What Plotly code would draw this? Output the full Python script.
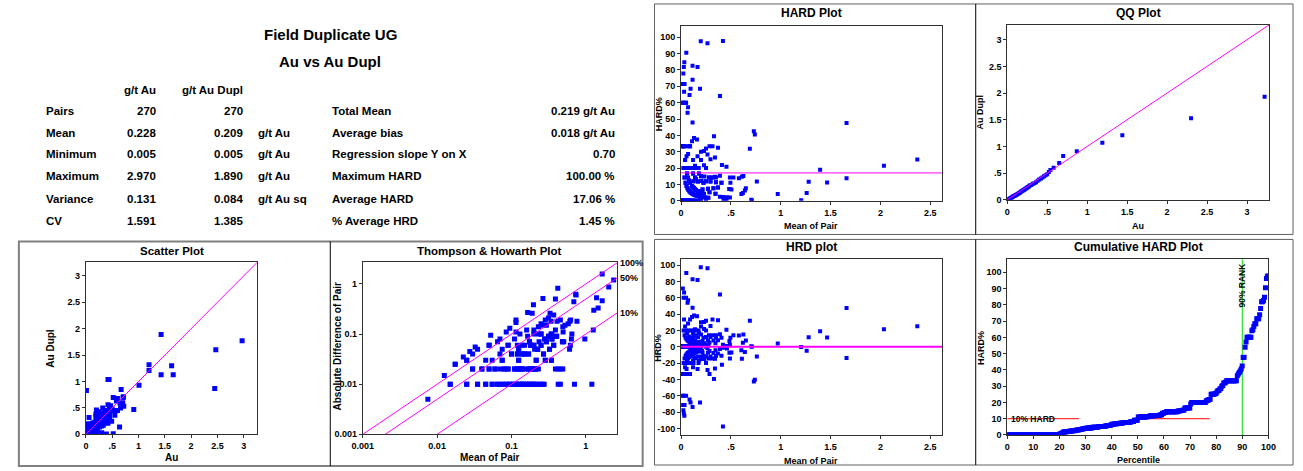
import math
import plotly.graph_objects as go

W, H = 1303, 471

# ---- assay pairs: original (Au) and field duplicate (Au Dupl), g/t ----
au = [
    0.005, 0.005, 0.005, 0.005, 0.005, 0.005, 0.005, 0.005, 0.005,
    0.01, 0.01, 0.01, 0.01, 0.01, 0.02, 0.02, 0.02, 0.02,
    0.03, 0.03, 0.03, 0.04, 0.04, 0.04, 0.05, 0.05, 0.05,
    0.06, 0.06, 0.06, 0.07, 0.07, 0.07, 0.08, 0.08, 0.08,
    0.09, 0.09, 0.10, 0.10, 0.10, 0.11, 0.11, 0.12, 0.12,
    0.13, 0.13, 0.14, 0.15, 0.16, 0.18, 0.20, 0.25, 0.71,
    1.20, 0.13, 0.12, 0.14, 0.13, 0.15, 0.14, 0.16, 0.17,
    0.16, 0.18, 0.19, 0.20, 0.19, 0.21, 0.22, 0.24, 0.25,
    0.26, 0.28, 0.38, 0.43, 0.45, 0.50, 0.42, 0.46, 0.71,
    1.01, 1.20, 0.09, 0.08, 0.10, 0.09, 0.11, 0.10, 0.12,
    0.11, 0.16, 0.18, 0.17, 0.19, 0.18, 0.20, 0.21, 0.22,
    0.20, 0.24, 0.27, 0.30, 0.33, 0.36, 0.60, 0.58, 0.65,
    0.06, 0.05, 0.07, 0.06, 0.08, 0.07, 0.10, 0.12, 0.11,
    0.13, 0.12, 0.14, 0.13, 0.15, 0.14, 0.20, 0.23, 0.25,
    0.29, 0.30, 0.35, 0.40, 0.34, 0.45, 0.52, 0.47, 0.70,
    1.63, 1.43, 0.04, 0.05, 0.07, 0.09, 0.08, 0.10, 0.13,
    0.17, 0.11, 0.14, 0.15, 0.19, 0.18, 0.25, 0.20, 0.22,
    0.28, 0.31, 0.39, 0.26, 0.33, 0.45, 0.36, 0.67, 0.55,
    1.43, 0.52, 0.06, 0.05, 0.07, 0.10, 0.14, 0.12, 0.16,
    0.15, 0.21, 0.17, 0.23, 0.24, 0.32, 0.27, 0.36, 0.29,
    0.40, 0.45, 0.42, 0.60, 0.72, 0.66, 0.04, 0.03, 0.20,
    0.02, 0.03, 0.04, 0.06, 0.06, 0.09, 0.08, 0.12, 0.10,
    0.15, 0.14, 0.18, 0.20, 0.30, 2.47, 2.97, 1.66, 0.03,
    0.05, 0.09, 0.25, 0.37, 0.28, 0.21, 0.32, 0.55, 0.17,
    0.42, 0.44, 0.91, 0.005, 0.01, 0.02, 0.05, 0.06, 0.18,
    0.22, 0.42, 0.49, 0.04, 0.12, 0.20, 0.01, 0.19, 0.12,
    0.19, 0.04, 0.25, 0.15, 0.30, 0.33, 0.26, 0.03, 0.09,
    0.39, 0.52, 0.10, 0.21, 0.30, 0.64, 0.03, 0.05, 0.04,
    0.08, 0.10, 0.17, 2.45, 0.01, 0.005, 0.005, 0.005, 0.01,
    0.03, 0.03, 0.06, 0.01, 0.02, 0.03, 0.005, 0.11, 0.005,
]
au_dupl = [
    0.005, 0.005, 0.005, 0.005, 0.005, 0.005, 0.005, 0.005, 0.005,
    0.01, 0.01, 0.01, 0.01, 0.01, 0.02, 0.02, 0.02, 0.02,
    0.03, 0.03, 0.03, 0.04, 0.04, 0.04, 0.05, 0.05, 0.05,
    0.06, 0.06, 0.06, 0.07, 0.07, 0.07, 0.08, 0.08, 0.08,
    0.09, 0.09, 0.10, 0.10, 0.10, 0.11, 0.11, 0.12, 0.12,
    0.13, 0.13, 0.14, 0.15, 0.16, 0.18, 0.20, 0.25, 0.71,
    1.21, 0.12, 0.13, 0.13, 0.14, 0.14, 0.15, 0.15, 0.16,
    0.17, 0.17, 0.18, 0.19, 0.20, 0.20, 0.21, 0.23, 0.24,
    0.27, 0.27, 0.40, 0.41, 0.47, 0.48, 0.43, 0.45, 0.70,
    0.93, 1.32, 0.08, 0.09, 0.09, 0.10, 0.10, 0.11, 0.11,
    0.12, 0.18, 0.16, 0.19, 0.17, 0.20, 0.18, 0.19, 0.20,
    0.22, 0.22, 0.30, 0.27, 0.36, 0.33, 0.68, 0.63, 0.59,
    0.05, 0.06, 0.06, 0.07, 0.07, 0.08, 0.12, 0.10, 0.13,
    0.11, 0.14, 0.12, 0.15, 0.13, 0.16, 0.23, 0.20, 0.29,
    0.25, 0.35, 0.30, 0.34, 0.40, 0.52, 0.45, 0.54, 0.60,
    1.30, 1.13, 0.05, 0.04, 0.09, 0.07, 0.10, 0.08, 0.17,
    0.13, 0.14, 0.11, 0.19, 0.15, 0.23, 0.20, 0.25, 0.28,
    0.22, 0.39, 0.31, 0.33, 0.26, 0.36, 0.45, 0.85, 0.44,
    1.89, 0.70, 0.08, 0.07, 0.05, 0.14, 0.10, 0.16, 0.12,
    0.21, 0.15, 0.23, 0.17, 0.32, 0.24, 0.36, 0.27, 0.39,
    0.30, 0.33, 0.56, 0.45, 0.53, 0.50, 0.03, 0.04, 0.27,
    0.03, 0.02, 0.06, 0.04, 0.09, 0.06, 0.12, 0.08, 0.15,
    0.10, 0.21, 0.12, 0.30, 0.20, 1.60, 1.77, 1.13, 0.05,
    0.03, 0.15, 0.15, 0.22, 0.18, 0.14, 0.50, 0.36, 0.11,
    1.04, 1.04, 0.47, 0.01, 0.02, 0.04, 0.10, 0.12, 0.08,
    0.10, 0.21, 0.25, 0.02, 0.06, 0.46, 0.02, 0.38, 0.21,
    0.34, 0.07, 0.43, 0.07, 0.16, 0.17, 0.14, 0.06, 0.05,
    0.005, 0.01, 0.005, 0.02, 0.03, 0.14, 0.005, 0.01, 0.01,
    0.02, 0.03, 0.06, 0.87, 0.83, 0.06, 0.04, 0.03, 0.06,
    0.16, 0.20, 0.32, 0.04, 0.08, 0.14, 0.02, 0.03, 0.05,
]

# quantile pairs shown on the QQ plot (g/t)
qq_au = [0.01, 0.02, 0.03, 0.04, 0.05, 0.06, 0.07, 0.08, 0.09, 0.10,
         0.11, 0.12, 0.13, 0.14, 0.15, 0.16, 0.17, 0.18, 0.19, 0.20,
         0.21, 0.22, 0.23, 0.24, 0.25, 0.26, 0.27, 0.28, 0.30, 0.32,
         0.34, 0.36, 0.38, 0.40, 0.42, 0.44, 0.46, 0.48, 0.50, 0.52,
         0.54, 0.58, 0.65, 0.70, 0.87, 1.19, 1.44, 2.30, 3.22]
qq_dupl = [0.005, 0.01, 0.02, 0.03, 0.04, 0.05, 0.06, 0.07, 0.075, 0.08,
           0.09, 0.10, 0.11, 0.12, 0.13, 0.14, 0.15, 0.16, 0.17, 0.18,
           0.19, 0.20, 0.21, 0.22, 0.23, 0.24, 0.25, 0.27, 0.28, 0.30,
           0.31, 0.33, 0.36, 0.38, 0.40, 0.42, 0.44, 0.46, 0.48, 0.52,
           0.56, 0.60, 0.69, 0.82, 0.91, 1.07, 1.21, 1.53, 1.93]

# summary statistics table
stat_rows = ["Pairs", "Mean", "Minimum", "Maximum", "Variance", "CV"]
stat_au = ["270", "0.228", "0.005", "2.970", "0.131", "1.591"]
stat_dupl = ["270", "0.209", "0.005", "1.890", "0.084", "1.385"]
stat_units = ["", "g/t Au", "g/t Au", "g/t Au", "g/t Au sq", ""]
summary_labels = ["Total Mean", "Average bias", "Regression slope Y on X",
                  "Maximum HARD", "Average HARD", "% Average HRD"]
summary_values = ["0.219 g/t Au", "0.018 g/t Au", "0.70",
                  "100.00 %", "17.06 %", "1.45 %"]
avg_hard = 17.06
precision_levels = [100, 50, 10]
hard_ref = 10
rank_ref = 90

# ---- derived quantities ----
mean_pair = [(a + b) / 2 for a, b in zip(au, au_dupl)]
abs_diff = [abs(a - b) for a, b in zip(au, au_dupl)]
hard = [abs(a - b) / (a + b) * 100 for a, b in zip(au, au_dupl)]
hrd = [(a - b) / (a + b) * 100 for a, b in zip(au, au_dupl)]
th_x = [m for m, d in zip(mean_pair, abs_diff) if d > 1e-9]
th_y = [d for d in abs_diff if d > 1e-9]
hard_sorted = sorted(hard)
n = len(hard_sorted)
percentile = [i / (n - 1) * 100 for i in range(n)]

FONT = "Liberation Sans"
BLUE = "#0000FF"
MAG = "#FF00FF"


def fx(px):
    return px / W


def fy(py):
    return 1 - py / H


def bold(size, color="#000000"):
    return dict(family=FONT, size=size, color=color, weight="bold")


def axis(x0, x1, rng, tickvals, ticktext, horizontal, anchor, typ="linear"):
    d = dict(
        range=rng, type=typ, tickmode="array", tickvals=tickvals, ticktext=ticktext,
        showline=True, mirror=True, linecolor="#303030", linewidth=1,
        ticks="outside", ticklen=3, tickwidth=1, tickcolor="#303030",
        showgrid=False, zeroline=False, tickfont=bold(9), fixedrange=True,
        anchor=anchor,
    )
    if horizontal:
        d["domain"] = [fx(x0), fx(x1)]
    else:
        d["domain"] = [fy(x1), fy(x0)]
    return d


fig = go.Figure()
marker = dict(symbol="square", color=BLUE, size=5, line=dict(width=0))

# 1. Scatter plot
fig.add_trace(go.Scatter(x=au, y=au_dupl, mode="markers", marker=marker,
                         xaxis="x", yaxis="y"))
fig.add_trace(go.Scatter(x=[0, 3.26], y=[0, 3.26], mode="lines",
                         line=dict(color=MAG, width=1), xaxis="x", yaxis="y"))

# 2. Thompson & Howarth plot
fig.add_trace(go.Scatter(x=th_x, y=th_y, mode="markers", marker=marker,
                         xaxis="x2", yaxis="y2"))
x_end = 10 ** 0.42
for p in precision_levels:
    f = p / 100
    fig.add_trace(go.Scatter(x=[0.001 / f, x_end], y=[0.001, f * x_end], mode="lines",
                             line=dict(color=MAG, width=1), xaxis="x2", yaxis="y2"))

# 3. HARD plot
fig.add_trace(go.Scatter(x=mean_pair, y=hard, mode="markers",
                         marker=dict(marker, size=4), xaxis="x3", yaxis="y3"))
fig.add_trace(go.Scatter(x=[0, 2.62], y=[avg_hard, avg_hard], mode="lines",
                         line=dict(color=MAG, width=1), xaxis="x3", yaxis="y3"))

# 4. QQ plot
fig.add_trace(go.Scatter(x=qq_au, y=qq_dupl, mode="markers",
                         marker=dict(marker, size=4), xaxis="x4", yaxis="y4"))
fig.add_trace(go.Scatter(x=[0, 3.28], y=[0, 3.28], mode="lines",
                         line=dict(color=MAG, width=1), xaxis="x4", yaxis="y4"))

# 5. HRD plot
fig.add_trace(go.Scatter(x=mean_pair, y=hrd, mode="markers",
                         marker=dict(marker, size=4), xaxis="x5", yaxis="y5"))
fig.add_trace(go.Scatter(x=[0, 2.62], y=[0, 0], mode="lines",
                         line=dict(color=MAG, width=2), xaxis="x5", yaxis="y5"))

# 6. Cumulative HARD plot
fig.add_trace(go.Scatter(x=[0, 27.5], y=[hard_ref, hard_ref], mode="lines",
                         line=dict(color="#FF0000", width=1), xaxis="x6", yaxis="y6"))
fig.add_trace(go.Scatter(x=[50, 77.5], y=[hard_ref, hard_ref], mode="lines",
                         line=dict(color="#FF0000", width=1), xaxis="x6", yaxis="y6"))
fig.add_trace(go.Scatter(x=[rank_ref, rank_ref], y=[0, 108], mode="lines",
                         line=dict(color="#00DD00", width=1), xaxis="x6", yaxis="y6"))
fig.add_trace(go.Scatter(x=percentile, y=hard_sorted, mode="markers",
                         marker=dict(marker, size=5), xaxis="x6", yaxis="y6"))

half = ["0", ".5", "1", "1.5", "2", "2.5", "3"]
logv = [0.001, 0.01, 0.1, 1]
logt = ["0.001", "0.01", "0.1", "1"]

layout_axes = dict(
    xaxis=axis(76, 250, [0, 3.26], [0, .5, 1, 1.5, 2, 2.5, 3], half, True, "y"),
    yaxis=axis(265, 439, [0, 3.26], [0, .5, 1, 1.5, 2, 2.5, 3], half, False, "x"),
    xaxis2=axis(357, 615, [-3, 0.42], logv, logt, True, "y2", "log"),
    yaxis2=axis(265, 439, [-3, 0.434], logv, logt, False, "x2", "log"),
    xaxis3=axis(680, 945, [0, 2.62], [0, .5, 1, 1.5, 2, 2.5], half[:6], True, "y3"),
    yaxis3=axis(26, 203, [0, 107], list(range(0, 101, 10)),
                [str(v) for v in range(0, 101, 10)], False, "x3"),
    xaxis4=axis(1011, 1277, [0, 3.28], [0, .5, 1, 1.5, 2, 2.5, 3], half, True, "y4"),
    yaxis4=axis(25, 202, [0, 3.28], [0, .5, 1, 1.5, 2, 2.5, 3], half, False, "x4"),
    xaxis5=axis(680, 945, [0, 2.62], [0, .5, 1, 1.5, 2, 2.5], half[:6], True, "y5"),
    yaxis5=axis(262, 440, [-108.5, 107.3], list(range(-100, 101, 20)),
                [str(v) for v in range(-100, 101, 20)], False, "x5"),
    xaxis6=axis(1011, 1276, [0, 100], list(range(0, 101, 10)),
                [str(v) for v in range(0, 101, 10)], True, "y6"),
    yaxis6=axis(262, 440, [-0.2, 108], list(range(0, 101, 10)),
                [str(v) for v in range(0, 101, 10)], False, "x6"),
)

ann = []


def text(px, py, s, size=11, xanchor="center", yanchor="middle", angle=0):
    ann.append(dict(x=fx(px), y=fy(py), xref="paper", yref="paper", text=s,
                    showarrow=False, xanchor=xanchor, yanchor=yanchor, borderpad=0,
                    textangle=angle, font=bold(size)))


# statistics table
text(324, 35, "Field Duplicate UG", 15)
text(324, 62, "Au vs Au Dupl", 15)
text(148, 91, "g/t Au", 11.5, "right")
text(236, 91, "g/t Au Dupl", 11.5, "right")
row_y = [112, 134, 156, 178, 201, 223]
for i, ry in enumerate(row_y):
    text(35, ry, stat_rows[i], 11.5, "left")
    text(148, ry, stat_au[i], 11.5, "right")
    text(236, ry, stat_dupl[i], 11.5, "right")
    if stat_units[i]:
        text(250, ry, stat_units[i], 11.5, "left")
    text(325, ry, summary_labels[i], 11.5, "left")
    text(614, ry, summary_values[i], 11.5, "right")

# panel titles
text(163, 254, "Scatter Plot", 11.5)
text(486, 254, "Thompson & Howarth Plot", 11.5)
text(812, 13, "HARD Plot", 12)
text(1144, 13, "QQ Plot", 12)
text(812, 250, "HRD plot", 12)
text(1144, 250, "Cumulative HARD Plot", 12)

# axis titles
text(163, 462, "Au", 10)
text(40, 352, "Au Dupl", 10, angle=-90)
text(486, 462, "Mean of Pair", 10)
text(331, 350, "Absolute Difference of Pair", 10, angle=-90)
text(812, 228, "Mean of Pair", 9)
text(657, 115, "HARD%", 9, angle=-90)
text(1144, 228, "Au", 9)
text(983, 113, "Au Dupl", 9, angle=-90)
text(812, 466, "Mean of Pair", 9)
text(657, 351, "HRD%", 9, angle=-90)
text(1144, 465, "Percentile", 9)
text(985, 352, "HARD%", 9, angle=-90)

# precision line labels
for p in precision_levels:
    f = p / 100
    ann.append(dict(x=math.log10(x_end), y=math.log10(f * x_end), xref="x2", yref="y2",
                    text=f"{p}%", showarrow=False, xanchor="left", yanchor="middle",
                    xshift=1, font=bold(9)))

# reference labels on the cumulative plot
ann.append(dict(x=0.5, y=hard_ref, xref="x6", yref="y6", text="10% HARD",
                showarrow=False, xanchor="left", yanchor="middle", font=bold(8.5)))
ann.append(dict(x=rank_ref, y=92, xref="x6", yref="y6", text="90% RANK",
                showarrow=False, xanchor="center", yanchor="middle", textangle=-90,
                font=bold(8.5)))

# panel frames
shapes = []


def rect(x0, y0, x1, y1, color, width):
    shapes.append(dict(type="rect", xref="paper", yref="paper", x0=fx(x0), x1=fx(x1),
                       y0=fy(y1), y1=fy(y0), line=dict(color=color, width=width)))


def vline(x, y0, y1, color, width=1):
    shapes.append(dict(type="line", xref="paper", yref="paper", x0=fx(x), x1=fx(x),
                       y0=fy(y1), y1=fy(y0), line=dict(color=color, width=width)))


rect(8, 244, 641, 471, "#808080", 2)
vline(324, 244, 471, "#000000")
rect(653, 4, 1301, 237, "#606060", 1)
rect(653, 242, 1301, 470, "#606060", 1)
vline(979, 4, 237, "#000000")
vline(979, 242, 470, "#000000")

fig.update_layout(
    width=W, height=H, margin=dict(l=0, r=0, t=0, b=0),
    paper_bgcolor="white", plot_bgcolor="white", showlegend=False,
    annotations=ann, shapes=shapes, **layout_axes,
)

fig.write_html("out.html", config=dict(displayModeBar=False))
